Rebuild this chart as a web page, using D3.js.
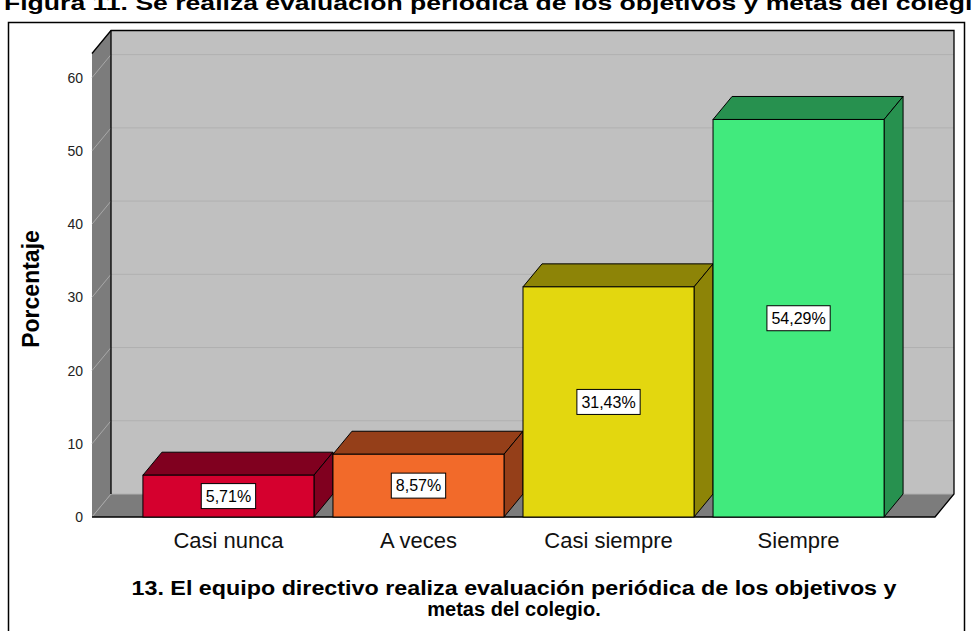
<!DOCTYPE html>
<html>
<head>
<meta charset="utf-8">
<script src="https://cdn.jsdelivr.net/npm/d3@7"></script>
<style>
  html, body { margin: 0; padding: 0; background: #fff; }
  svg { display: block; font-family: "Liberation Sans", Arial, sans-serif; }
</style>
</head>
<body>
<svg id="chart" width="972" height="631"></svg>
<script>
const categories = ["Casi nunca", "A veces", "Casi siempre", "Siempre"];
const values = [5.71, 8.57, 31.43, 54.29];
const valueLabels = ["5,71%", "8,57%", "31,43%", "54,29%"];
const yTicks = [0, 10, 20, 30, 40, 50, 60];
const frontColors = ["#d5002e", "#f26a2a", "#e3d70f", "#41ea7d"];
const darkColors = ["#80001f", "#953f19", "#8d8407", "#27914f"];
const figureTitle = "Figura 11. Se realiza evaluación periódica de los objetivos y metas del colegio.";
const yTitle = "Porcentaje";
const xTitleLines = ["13. El equipo directivo realiza evaluación periódica de los objetivos y", "metas del colegio."];

const svg = d3.select("#chart");
const dx = 19, dy = -23;
const x0 = 92, x1 = 935, yBase = 517;

const x = d3.scaleBand().domain(categories).range([x0, x1]).paddingInner(0.1).paddingOuter(0.268);
const y = d3.scaleLinear().domain([0, 63.3]).range([yBase, 53.5]);
const yTop = y(63.3);

// figure caption (clipped at top, as in the source)
svg.append("text").attr("x", 4).attr("y", 10)
  .attr("font-size", 21).attr("font-weight", "bold").attr("fill", "#000")
  .attr("textLength", 992).attr("lengthAdjust", "spacingAndGlyphs")
  .text(figureTitle);

// outer frame
svg.append("rect").attr("x", 8.5).attr("y", 22.5).attr("width", 956).attr("height", 660)
  .attr("fill", "none").attr("stroke", "#000").attr("stroke-width", 1.5);

const pts = a => a.map(p => p.join(",")).join(" ");

// back wall
svg.append("polygon")
  .attr("points", pts([[x0 + dx, yTop + dy], [x1 + dx, yTop + dy], [x1 + dx, yBase + dy], [x0 + dx, yBase + dy]]))
  .attr("fill", "#c0c0c0");
// side wall
svg.append("polygon")
  .attr("points", pts([[x0, yTop], [x0 + dx, yTop + dy], [x0 + dx, yBase + dy], [x0, yBase]]))
  .attr("fill", "#7c7c7c");
// floor
svg.append("polygon")
  .attr("points", pts([[x0, yBase], [x0 + dx, yBase + dy], [x1 + dx, yBase + dy], [x1, yBase]]))
  .attr("fill", "#7c7c7c");

// gridlines
const grid = svg.append("g");
yTicks.forEach(t => {
  grid.append("line").attr("x1", x0 + dx).attr("x2", x1 + dx)
    .attr("y1", y(t) + dy).attr("y2", y(t) + dy)
    .attr("stroke", "#b0b0b0").attr("stroke-width", 1);
  grid.append("line").attr("x1", x0).attr("x2", x0 + dx)
    .attr("y1", y(t)).attr("y2", y(t) + dy)
    .attr("stroke", "#a8a8a8").attr("stroke-width", 1);
});

// wall outlines
const edge = svg.append("g").attr("stroke", "#000").attr("stroke-width", 1.3).attr("fill", "none");
edge.append("polyline").attr("points", pts([[x0, yTop], [x0 + dx, yTop + dy], [x1 + dx, yTop + dy], [x1 + dx, yBase + dy], [x1, yBase], [x0, yBase]]));
edge.append("line").attr("x1", x0 + dx).attr("x2", x0 + dx).attr("y1", yTop + dy).attr("y2", yBase + dy);

// y tick labels
svg.append("g").selectAll("text").data(yTicks).join("text")
  .attr("x", 83).attr("y", d => y(d)).attr("dy", "0.36em")
  .attr("text-anchor", "end").attr("font-size", 14).attr("fill", "#222")
  .text(d => d);

// bars
const bars = svg.append("g").selectAll("g").data(categories).join("g");
bars.each(function (c, i) {
  const g = d3.select(this);
  const bx = x(c), bw = x.bandwidth(), yt = y(values[i]);
  g.append("polygon")
    .attr("points", pts([[bx, yt], [bx + dx, yt + dy], [bx + bw + dx, yt + dy], [bx + bw, yt]]))
    .attr("fill", darkColors[i]).attr("stroke", "#000").attr("stroke-width", 1).attr("stroke-linejoin", "round");
  g.append("polygon")
    .attr("points", pts([[bx + bw, yt], [bx + bw + dx, yt + dy], [bx + bw + dx, yBase + dy], [bx + bw, yBase]]))
    .attr("fill", darkColors[i]).attr("stroke", "#000").attr("stroke-width", 1).attr("stroke-linejoin", "round");
  g.append("rect").attr("x", bx).attr("y", yt).attr("width", bw).attr("height", yBase - yt)
    .attr("fill", frontColors[i]).attr("stroke", "#000").attr("stroke-width", 1);
});

// value labels
bars.each(function (c, i) {
  const g = d3.select(this);
  const cx = x(c) + x.bandwidth() / 2;
  const cy = (y(values[i]) + yBase) / 2;
  const rect = g.append("rect").attr("fill", "#fff").attr("stroke", "#000").attr("stroke-width", 1);
  const t = g.append("text").attr("x", cx).attr("y", cy).attr("dy", "0.36em")
    .attr("text-anchor", "middle").attr("font-size", 16).attr("fill", "#000")
    .text(valueLabels[i]);
  const bb = t.node().getBBox();
  const w = bb.width + 9, h = 25;
  rect.attr("x", cx - w / 2).attr("y", cy - h / 2).attr("width", w).attr("height", h);
});

// category labels
svg.append("g").selectAll("text").data(categories).join("text")
  .attr("x", d => x(d) + x.bandwidth() / 2).attr("y", 548)
  .attr("text-anchor", "middle").attr("font-size", 22).attr("fill", "#111")
  .text(d => d);

// y title
svg.append("text").attr("transform", "translate(39,289) rotate(-90)")
  .attr("text-anchor", "middle").attr("font-size", 23).attr("font-weight", "bold").attr("fill", "#000")
  .text(yTitle);

// x title
svg.append("g").selectAll("text").data(xTitleLines).join("text")
  .attr("x", 514).attr("y", (d, i) => 595 + i * 21)
  .attr("text-anchor", "middle").attr("font-size", 20).attr("font-weight", "bold").attr("fill", "#000")
  .each(function (d, i) { if (i === 0) d3.select(this).attr("textLength", 765).attr("lengthAdjust", "spacingAndGlyphs"); })
  .text(d => d);
</script>
</body>
</html>
